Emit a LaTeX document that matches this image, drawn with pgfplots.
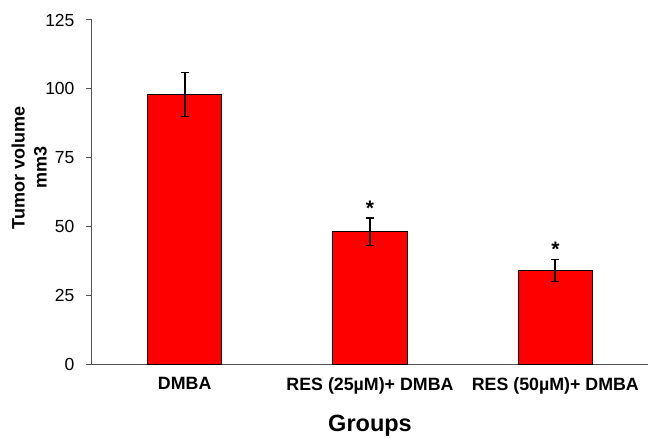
\documentclass[border=0pt]{standalone}
\usepackage{pgfplots}
\pgfplotsset{compat=1.18}
\usepackage{fontspec}
\setmainfont{Liberation Sans}
\definecolor{axgray}{RGB}{80,80,80}
\begin{document}
\begin{tikzpicture}
\begin{axis}[
  name=ax,
  scale only axis,
  width=556pt, height=344pt,
  xmin=-0.5, xmax=2.5,
  ymin=0, ymax=125,
  ytick={0,25,50,75,100,125},
  yticklabels={0,25,50,75,100,125},
  xtick={0,1,2},
  xticklabels={DMBA, RES (25µM)+ DMBA, RES (50µM)+ DMBA},
  xticklabel style={font=\fontsize{17.8}{20}\selectfont\bfseries, yshift=-4pt},
  yticklabel style={font=\fontsize{17.5}{20}\selectfont, xshift=-8pt},
  /pgf/number format/assume math mode=true,
  axis x line*=bottom, axis y line*=left,
  axis line style={axgray, line width=1pt},
  tick align=outside,
  major tick length=6pt,
  tick style={axgray, line width=1pt},
  x tick style={draw=none},
  extra x ticks={-0.5,0.5,1.5,2.5},
  extra x tick labels={},
  extra x tick style={tick style={axgray, line width=1pt}},
  ylabel={Tumor volume\\mm3},
  ylabel style={font=\fontsize{18}{22}\selectfont\bfseries, align=center,
    at={(axis description cs:-0.081,0.57)}, anchor=south, inner sep=0pt},
  xlabel={Groups},
  xlabel style={font=\fontsize{23.5}{26}\selectfont\bfseries, yshift=-2pt},
  ybar, bar width=0.4,
  clip=false,
]
\addplot[fill=red, draw=black, line width=1pt,
  error bars/.cd, y dir=both, y explicit,
  error bar style={black, line width=2pt},
  error mark options={black, line width=1.5pt, mark size=4pt, rotate=90}]
  coordinates {(0,98) +- (0,8) (1,48) +- (0,5) (2,34) +- (0,4)};
\node[font=\fontsize{21}{22}\selectfont\bfseries, anchor=south, inner sep=1pt] at (axis cs:1,53.5) {*};
\node[font=\fontsize{21}{22}\selectfont\bfseries, anchor=south, inner sep=1pt] at (axis cs:2,38.5) {*};
\end{axis}
\pgfresetboundingbox
\path ([shift={(-92pt,-73pt)}]ax.south west) rectangle ([shift={(0pt,20pt)}]ax.north east);
\end{tikzpicture}
\end{document}
